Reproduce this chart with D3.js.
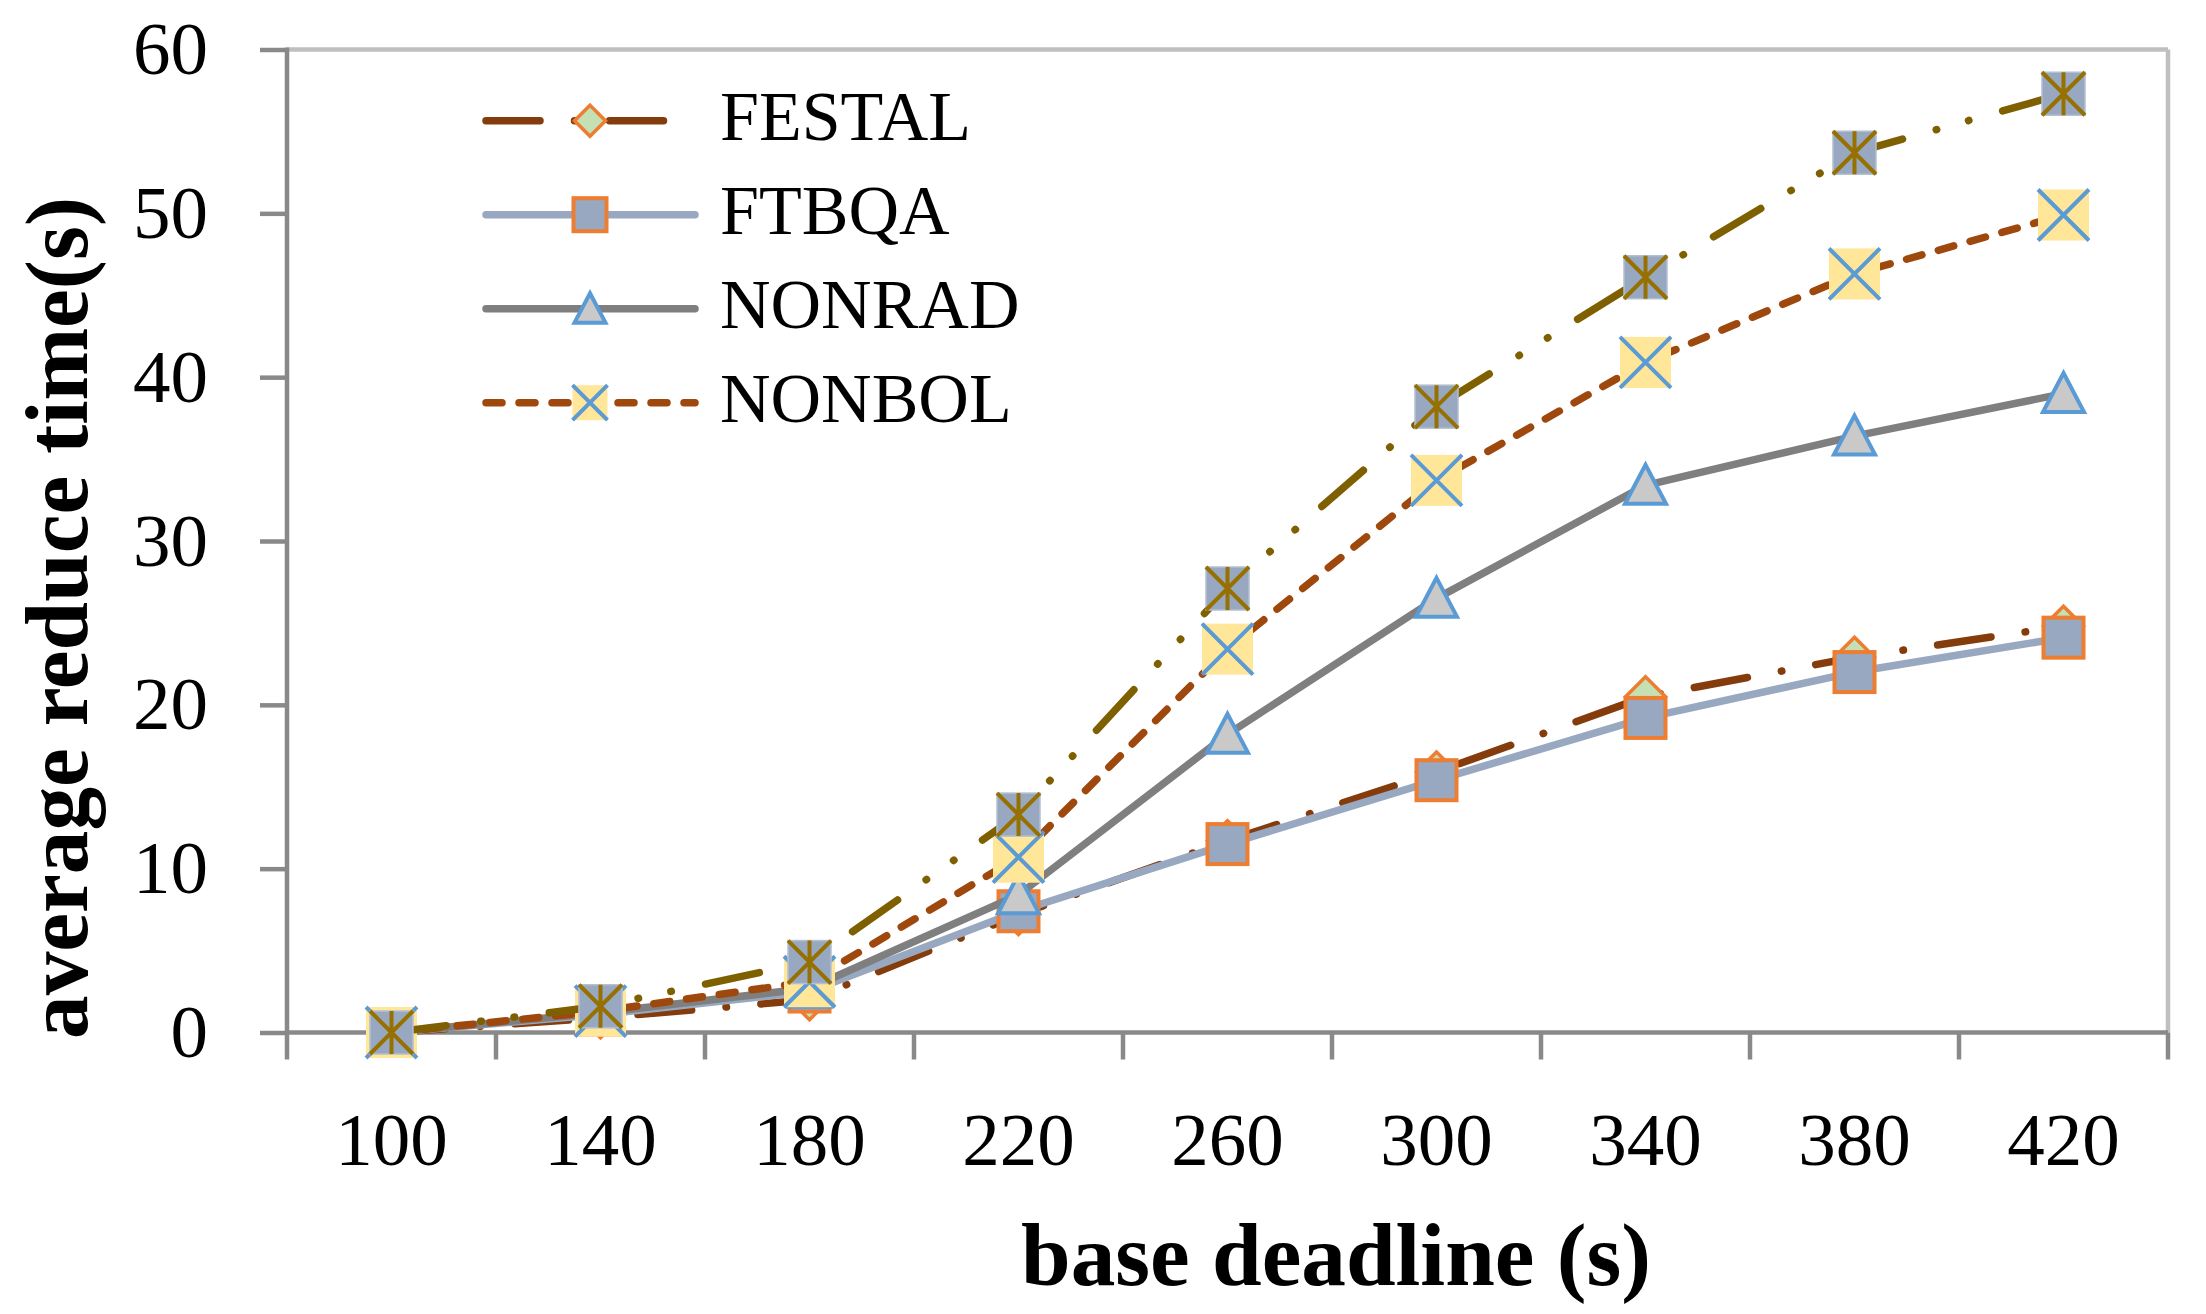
<!DOCTYPE html>
<html><head><meta charset="utf-8">
<script src="https://cdn.jsdelivr.net/npm/d3@7"></script>
<style>html,body{margin:0;padding:0;background:#fff;} svg{display:block;}</style>
</head><body>
<svg id="chart" width="2206" height="1314"></svg>
<script>
// ---- data ----
const categories = ["100","140","180","220","260","300","340","380","420"];
const yTicks = [0,10,20,30,40,50,60];
const festal  = [0, 0.9, 2.0, 7.2, 11.7, 15.9, 20.5, 22.9, 24.8];
const ftbqa   = [0, 1.1, 2.5, 7.4, 11.5, 15.4, 19.2, 22.0, 24.1];
const nonrad  = [0, 1.2, 2.7, 8.4, 18.2, 26.5, 33.4, 36.4, 39.0];
const nonbol  = [0, 1.3, 3.1, 10.7, 23.4, 33.7, 40.9, 46.3, 49.9];
const series5 = [0, 1.6, 4.3, 13.3, 27.1, 38.2, 46.1, 53.7, 57.3];
const legendNames = ["FESTAL","FTBQA","NONRAD","NONBOL"];
const xTitle = "base deadline (s)";
const yTitle = "average reduce time(s)";

(function () {
// ---- styles ----
const styles = [
  {name:"FESTAL", values:festal, color:"#843c0c", dash:"54,34.5,0.5,34.5", marker:"diamond", size:44, legendSize:35},
  {name:"FTBQA", values:ftbqa, color:"#98a8c0", dash:null, marker:"square", size:44, legendSize:37},
  {name:"NONRAD", values:nonrad, color:"#7f7f7f", dash:null, marker:"triangle", size:46, legendSize:36},
  {name:"NONBOL", values:nonbol, color:"#9e480e", dash:"16,17", marker:"xbox", size:51, legendSize:35},
  {name:"", values:series5, color:"#7f6000", dash:"55,35,0.5,33,0.5,35", marker:"star", size:43, legendSize:35}
];

const svg = d3.select("#chart");
const pLeft = 287, pRight = 2168, pTop = 49.5, pBottom = 1032.5;
const x = d3.scaleBand().domain(categories).range([pLeft, pRight]).paddingInner(0).paddingOuter(0);
const y = d3.scaleLinear().domain([0, 60]).range([pBottom, pTop]);
const cx = c => x(c) + x.bandwidth() / 2;
const axisColor = "#898989";
const serif = "'Liberation Serif','Times New Roman',serif";

// plot border (top and right)
svg.append("line").attr("x1", pLeft).attr("x2", pRight).attr("y1", pTop).attr("y2", pTop)
  .attr("stroke", "#bfbfbf").attr("stroke-width", 4.5);
svg.append("line").attr("x1", pRight).attr("x2", pRight).attr("y1", pTop).attr("y2", pBottom)
  .attr("stroke", "#bfbfbf").attr("stroke-width", 4.5);

// y axis
const yAxis = svg.append("g").attr("transform", `translate(${pLeft},0)`)
  .call(d3.axisLeft(y).tickValues(yTicks).tickSize(27).tickPadding(52).tickSizeOuter(0));
yAxis.select(".domain").remove();
yAxis.selectAll(".tick line").attr("stroke", axisColor).attr("stroke-width", 4.5);
yAxis.selectAll(".tick text").attr("font-family", serif).attr("font-size", 75).attr("fill", "#000");
svg.append("line").attr("x1", pLeft).attr("x2", pLeft).attr("y1", pTop - 2).attr("y2", pBottom)
  .attr("stroke", axisColor).attr("stroke-width", 4.5);

// x axis
svg.append("line").attr("x1", pLeft).attr("x2", pRight).attr("y1", pBottom).attr("y2", pBottom)
  .attr("stroke", axisColor).attr("stroke-width", 4.5);
const edges = categories.map(c => x(c)).concat([x.range()[1]]);
svg.append("g").selectAll("line").data(edges).join("line")
  .attr("x1", d => d).attr("x2", d => d).attr("y1", pBottom).attr("y2", pBottom + 27)
  .attr("stroke", axisColor).attr("stroke-width", 4.5);
svg.append("g").selectAll("text").data(categories).join("text")
  .attr("x", d => cx(d)).attr("y", 1165).attr("text-anchor", "middle")
  .attr("font-family", serif).attr("font-size", 75).text(d => d);

// titles
svg.append("text").attr("x", 1336).attr("y", 1285).attr("text-anchor", "middle")
  .attr("font-family", serif).attr("font-weight", "bold").attr("font-size", 88)
  .attr("textLength", 630).attr("lengthAdjust", "spacingAndGlyphs").text(xTitle);
svg.append("text").attr("transform", "translate(87,618) rotate(-90)").attr("text-anchor", "middle")
  .attr("font-family", serif).attr("font-weight", "bold").attr("font-size", 88)
  .attr("textLength", 842).attr("lengthAdjust", "spacingAndGlyphs").text(yTitle);

// markers
function drawMarker(g, type, px, py, s) {
  const h = s / 2;
  if (type === "diamond") {
    const k = h - 2;
    g.append("path").attr("d", `M${px},${py-k}L${px+k},${py}L${px},${py+k}L${px-k},${py}Z`)
      .attr("fill", "#c5e0b4").attr("stroke", "#ed7d31").attr("stroke-width", 3.5);
  } else if (type === "square") {
    const k = h - 2;
    g.append("rect").attr("x", px - k).attr("y", py - k).attr("width", 2*k).attr("height", 2*k)
      .attr("fill", "#98a8c0").attr("stroke", "#ed7d31").attr("stroke-width", 4);
  } else if (type === "triangle") {
    const k = h - 2.5;
    g.append("path").attr("d", `M${px},${py-k}L${px+k},${py+k*0.9}L${px-k},${py+k*0.9}Z`)
      .attr("fill", "#c9c9c9").attr("stroke", "#5b9bd5").attr("stroke-width", 4);
  } else if (type === "xbox") {
    g.append("rect").attr("x", px - h).attr("y", py - h).attr("width", s).attr("height", s)
      .attr("fill", "#ffe699");
    g.append("path").attr("d", `M${px-h},${py-h}L${px+h},${py+h}M${px+h},${py-h}L${px-h},${py+h}`)
      .attr("stroke", "#5b9bd5").attr("stroke-width", 4).attr("fill", "none");
  } else if (type === "star") {
    g.append("rect").attr("x", px - h).attr("y", py - h).attr("width", s).attr("height", s)
      .attr("fill", "#98a8c0").attr("stroke", "#b4bfcf").attr("stroke-width", 1.5);
    g.append("path").attr("d", `M${px-h},${py-h}L${px+h},${py+h}M${px+h},${py-h}L${px-h},${py+h}M${px},${py-h}L${px},${py+h}`)
      .attr("stroke", "#967000").attr("stroke-width", 4).attr("fill", "none");
  }
}

// series
const line = d3.line().x((d, i) => cx(categories[i])).y(d => y(d));
styles.forEach(st => {
  const g = svg.append("g");
  const p = g.append("path").attr("d", line(st.values)).attr("fill", "none")
    .attr("stroke", st.color).attr("stroke-width", 7.5)
    .attr("stroke-linecap", "round").attr("stroke-linejoin", "round");
  if (st.dash) p.attr("stroke-dasharray", st.dash);
  st.values.forEach((v, i) => drawMarker(g, st.marker, cx(categories[i]), y(v), st.size));
});

// legend
const legendY0 = 120.7, legendStep = 94;
legendNames.forEach((name, i) => {
  const st = styles.find(s => s.name === name);
  const ly = legendY0 + i * legendStep;
  const g = svg.append("g");
  const p = g.append("line").attr("x1", 486).attr("x2", 695).attr("y1", ly).attr("y2", ly)
    .attr("stroke", st.color).attr("stroke-width", 7.5).attr("stroke-linecap", "round");
  if (st.dash) p.attr("stroke-dasharray", st.dash);
  drawMarker(g, st.marker, 590, ly, st.legendSize);
  g.append("text").attr("x", 720).attr("y", ly + 19).attr("font-family", serif)
    .attr("font-size", 70).text(name);
});
})();
</script>
</body></html>
